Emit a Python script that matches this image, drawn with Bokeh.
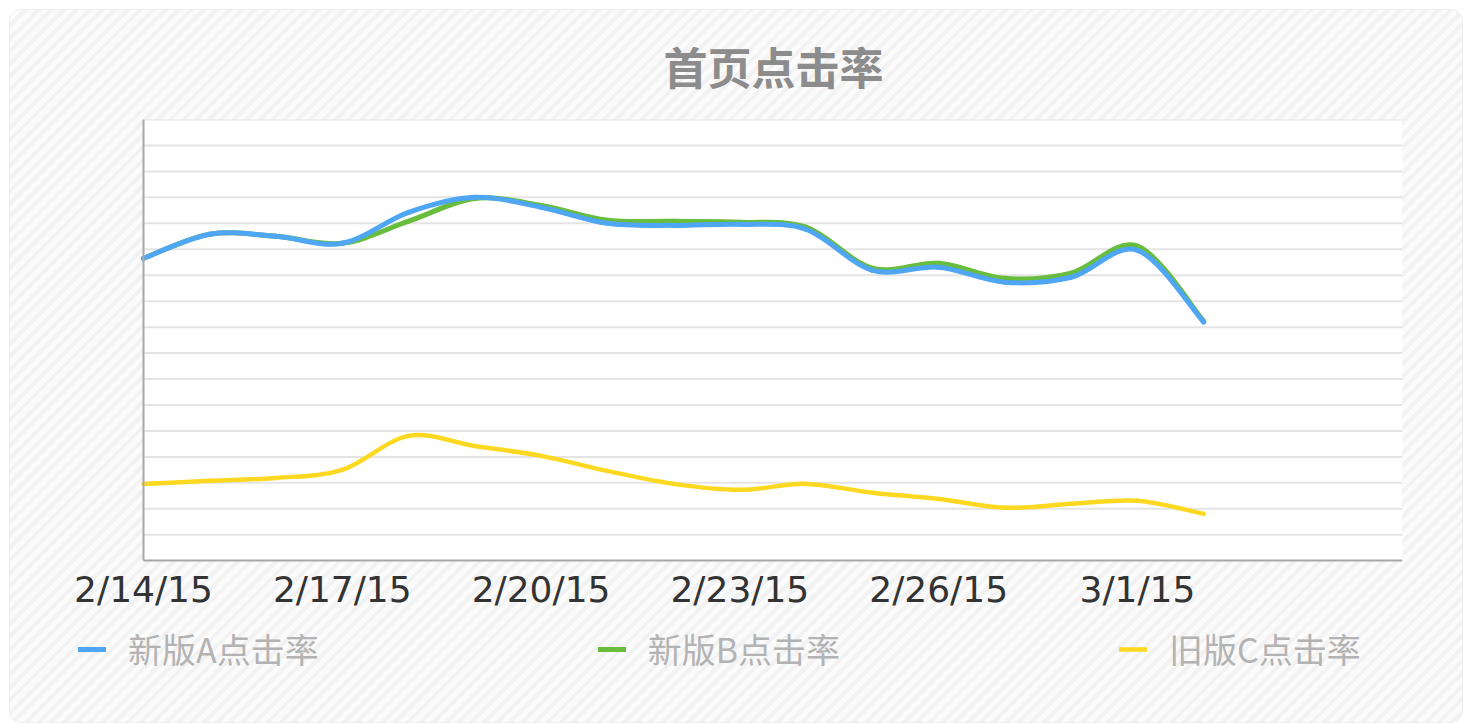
import numpy as np
from bokeh.plotting import figure
from bokeh.models import FixedTicker, Legend, LegendItem, ColumnDataSource, BoxAnnotation
from bokeh.embed import file_html
from bokeh.resources import INLINE

# ---------------- data ----------------
title_text = "首页点击率"
dates = ["2/14/15", "2/15/15", "2/16/15", "2/17/15", "2/18/15", "2/19/15",
         "2/20/15", "2/21/15", "2/22/15", "2/23/15", "2/24/15", "2/25/15",
         "2/26/15", "2/27/15", "2/28/15", "3/1/15", "3/2/15"]
series_names = ["新版A点击率", "新版B点击率", "旧版C点击率"]
rate_a = [11.65, 12.58, 12.50, 12.23, 13.42, 14.00, 13.62, 13.00, 12.92,
          12.96, 12.77, 11.19, 11.31, 10.73, 10.92, 11.96, 9.19]
rate_b = [11.65, 12.58, 12.50, 12.23, 13.08, 13.96, 13.69, 13.12, 13.08,
          13.04, 12.85, 11.27, 11.46, 10.88, 11.08, 12.12, 9.23]
rate_c = [2.96, 3.08, 3.19, 3.50, 4.81, 4.42, 4.04, 3.46, 2.96,
          2.73, 2.96, 2.62, 2.38, 2.04, 2.19, 2.31, 1.81]
y_grid_values = list(range(1, 18))
tick_step = 3

# ---------------- styles / layout ----------------
colors = ["#4ea6f4", "#68bd3c", "#fcd920"]
FONT_CJK = "Noto Sans CJK SC"
X_END = 19
Y_END = 17
PX_PER_DAY = 66.27
PX_PER_UNIT = 26.0
PAGE_OFF = 10                 # css margin of the card
FRAME_LEFT = 70               # page px
FRAME_TOP = 118
FRAME_BOTTOM = 674
AXIS_X = 143                  # page px of x = 0
AXIS_Y = 560                  # page px of y = 0
FIG_W, FIG_H = 1452, 712

x_idx = list(range(len(dates)))


def bezier_source(xs, ys, k=1.0):
    """Catmull-Rom style cubic Bezier segments through the data points."""
    xs = np.asarray(xs, float)
    ys = np.asarray(ys, float)
    n = len(xs)
    d = dict(x0=[], y0=[], x1=[], y1=[], cx0=[], cy0=[], cx1=[], cy1=[])
    for i in range(n - 1):
        p0 = i - 1 if i > 0 else i
        p3 = i + 2 if i + 2 < n else i + 1
        d["x0"].append(xs[i]); d["y0"].append(ys[i])
        d["x1"].append(xs[i + 1]); d["y1"].append(ys[i + 1])
        d["cx0"].append(xs[i] + (xs[i + 1] - xs[p0]) / 6 * k)
        d["cy0"].append(ys[i] + (ys[i + 1] - ys[p0]) / 6 * k)
        d["cx1"].append(xs[i + 1] - (xs[p3] - xs[i]) / 6 * k)
        d["cy1"].append(ys[i + 1] - (ys[p3] - ys[i]) / 6 * k)
    return ColumnDataSource(d)


x_start = -(AXIS_X - FRAME_LEFT) / PX_PER_DAY
y_start = -(FRAME_BOTTOM - AXIS_Y) / PX_PER_UNIT
frame_right = AXIS_X + X_END * PX_PER_DAY

p = figure(width=FIG_W, height=FIG_H, output_backend="svg", toolbar_location=None,
           x_range=(x_start, X_END), y_range=(y_start, Y_END),
           min_border_left=FRAME_LEFT - PAGE_OFF,
           min_border_right=int(round(FIG_W + PAGE_OFF - frame_right)),
           min_border_top=FRAME_TOP - PAGE_OFF,
           min_border_bottom=FIG_H + PAGE_OFF - FRAME_BOTTOM)

p.styles = {
    "margin-left": f"{PAGE_OFF}px",
    "margin-top": f"{PAGE_OFF}px",
    "background-image": "repeating-linear-gradient(135deg, #f2f2f2 0px, #f2f2f2 4px, #fbfbfb 4px, #fbfbfb 9px)",
    "border-radius": "12px",
    "box-shadow": "0 0 0 1px #ececec",
}
p.border_fill_alpha = 0
p.background_fill_alpha = 0
p.outline_line_color = None

# white plotting area
p.add_layout(BoxAnnotation(left=0, right=X_END, bottom=0, top=Y_END,
                           fill_color="white", fill_alpha=1, line_color=None,
                           level="image"))

# title
p.title.text = title_text
p.title.align = "left"
p.title.offset = 665 - FRAME_LEFT - 2
p.title.text_font = FONT_CJK
p.title.text_font_size = "44px"
p.title.text_font_style = "bold"
p.title.text_color = "#8c8c8c"
p.title.standoff = 43

# axes
p.xaxis.ticker = FixedTicker(ticks=x_idx[::tick_step])
p.xaxis.major_label_overrides = {i: dates[i] for i in x_idx}
p.xaxis.major_label_text_font = "DejaVu Sans"
p.xaxis.major_label_text_font_size = "36px"
p.xaxis.major_label_text_color = "#333333"
p.xaxis.major_label_standoff = 2
p.xaxis.major_tick_line_color = None
p.xaxis.minor_tick_line_color = None
p.xaxis.axis_line_color = "#a8a8a8"
p.xaxis.axis_line_width = 2
p.xaxis.fixed_location = 0
p.xaxis.bounds = (0, X_END + 0.06)

p.yaxis.ticker = FixedTicker(ticks=[])
p.yaxis.fixed_location = 0
p.yaxis.bounds = (0, Y_END)
p.yaxis.major_tick_line_color = None
p.yaxis.minor_tick_line_color = None
p.yaxis.axis_line_color = "#a8a8a8"
p.yaxis.axis_line_width = 2

p.xgrid.visible = False
p.ygrid.visible = False

# horizontal grid lines across the plotting area only
p.segment(x0=[0] * len(y_grid_values), x1=[X_END] * len(y_grid_values),
          y0=y_grid_values, y1=y_grid_values, line_color="#e4e4e4", line_width=2)

# series (drawn C, B, A so A is on top)
all_series = [rate_a, rate_b, rate_c]
series_renderers = {}
for idx in [2, 1, 0]:
    src = bezier_source(x_idx, all_series[idx])
    series_renderers[idx] = p.bezier(
        x0="x0", y0="y0", x1="x1", y1="y1", cx0="cx0", cy0="cy0",
        cx1="cx1", cy1="cy1", source=src, line_color=colors[idx],
        line_width=5 if idx < 2 else 4.5, line_cap="round")

LEG_H = 34
leg_bottom_page = 656 + LEG_H / 2
leg = Legend(items=[LegendItem(label=series_names[i], renderers=[series_renderers[i]])
                    for i in range(3)],
             location=(78 - FRAME_LEFT, FRAME_BOTTOM - leg_bottom_page),
             orientation="horizontal",
             glyph_width=28, glyph_height=LEG_H, label_height=LEG_H,
             label_standoff=22, padding=0, margin=0, spacing=279,
             border_line_color=None, background_fill_alpha=0,
             label_text_font=FONT_CJK, label_text_font_size="34px",
             label_text_color="#b3b3b3")
p.add_layout(leg)

open("out.html", "w").write(file_html(p, INLINE))
